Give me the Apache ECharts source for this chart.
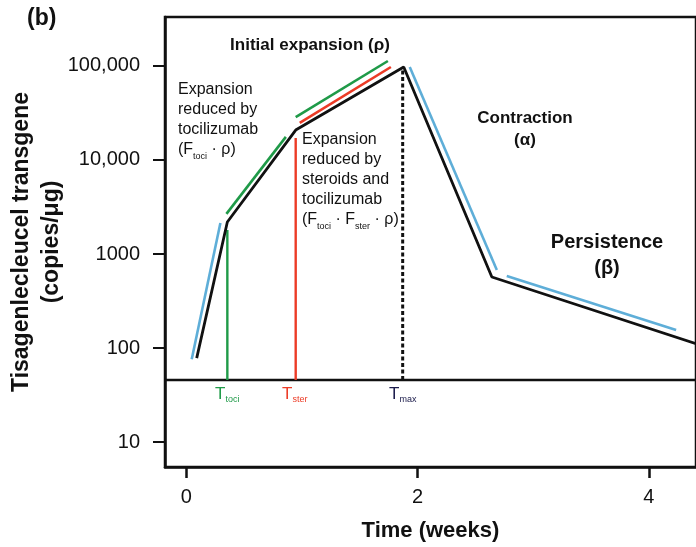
<!DOCTYPE html>
<html>
<head>
<meta charset="utf-8">
<script src="https://cdn.jsdelivr.net/npm/echarts@6/dist/echarts.min.js"></script>
<style>
html,body{margin:0;padding:0;background:#fff;}
#c{width:696px;height:547px;}
</style>
</head>
<body>
<div id="c"></div>
<script>
// ---- data (weeks, copies/ug) ----
var blackX = [0.09, 0.355, 0.946, 1.88, 2.642, 4.407];
var blackY = [78, 2190, 20800, 97500, 569, 111];
var blue1X = [0.047, 0.295];   var blue1Y = [76, 2140];
var green1X = [0.347, 0.861];  var green1Y = [2670, 17600];
var green2X = [0.946, 1.743];  var green2Y = [28600, 113000];
var red2X = [0.981, 1.769];    var red2Y = [24800, 97500];
var blue2X = [1.932, 2.685];   var blue2Y = [97500, 676];
var blue3X = [2.771, 4.235];   var blue3Y = [583, 155];
var tToci = 0.355, tociTop = 1800;
var tSter = 0.946, sterTop = 17100;
var tMax = 1.871, maxTop = 90600;
var baseLevel = 45.7;
var xRange = [-0.184, 4.407];
var yRange = [5.42, 331900];
var xTicks = [0, 2, 4];
var yTicks = [10, 100, 1000, 10000, 100000];
var yTickLabels = ['10', '100', '1000', '10,000', '100,000'];

function pts(xs, ys) { return xs.map(function (x, i) { return [x, ys[i]]; }); }
function seg(xs, ys, color, type, width) {
  return {
    type: 'line', data: pts(xs, ys), symbol: 'none', silent: true, animation: false,
    lineStyle: { color: color, width: width || 2.6, type: type || 'solid', cap: 'butt' }
  };
}
var BLUE = '#5eaed8', GREEN = '#1f9a48', RED = '#ec3b26', BLK = '#111111';
var FONT = 'Liberation Sans, Arial, sans-serif';

var chart = echarts.init(document.getElementById('c'), null, { renderer: 'canvas' });
var sub = { fontSize: 9, fontFamily: FONT, verticalAlign: 'bottom', padding: [0, 0, -1, 0] };
chart.setOption({
  animation: false,
  grid: { left: 165, top: 17, right: -5, bottom: 80, show: true, borderColor: BLK, borderWidth: 2.5 },
  xAxis: {
    type: 'value', min: xRange[0], max: xRange[1],
    axisLine: { show: true, onZero: false, lineStyle: { color: BLK, width: 2.5 } },
    axisTick: { show: true, length: 11, customValues: xTicks, lineStyle: { color: BLK, width: 2.5 } },
    axisLabel: { customValues: xTicks, margin: 20, fontSize: 20, color: BLK, fontFamily: FONT },
    splitLine: { show: false },
    name: 'Time (weeks)', nameLocation: 'middle', nameGap: 53,
    nameTextStyle: { fontSize: 22, fontWeight: 'bold', color: BLK, fontFamily: FONT }
  },
  yAxis: {
    type: 'log', logBase: 10, min: yRange[0], max: yRange[1],
    axisLine: { show: true, onZero: false, lineStyle: { color: BLK, width: 2.5 } },
    axisTick: { show: true, length: 12, customValues: yTicks, lineStyle: { color: BLK, width: 2 } },
    axisLabel: {
      customValues: yTicks, margin: 25, fontSize: 20, color: BLK, fontFamily: FONT,
      formatter: function (v) { var i = yTicks.indexOf(Math.round(v)); return i >= 0 ? yTickLabels[i] : ''; }
    },
    splitLine: { show: false }
  },
  series: [
    seg([xRange[0], xRange[1]], [baseLevel, baseLevel], BLK, 'solid', 2.5),
    seg([tToci, tToci], [baseLevel, tociTop], GREEN, 'solid', 2.4),
    seg([tSter, tSter], [baseLevel, sterTop], RED, 'solid', 2.4),
    seg([tMax, tMax], [baseLevel, maxTop], BLK, [4, 2.5], 3),
    seg(blue1X, blue1Y, BLUE),
    seg(green1X, green1Y, GREEN),
    seg(green2X, green2Y, GREEN),
    seg(red2X, red2Y, RED),
    seg(blue2X, blue2Y, BLUE),
    seg(blue3X, blue3Y, BLUE),
    seg(blackX, blackY, BLK, 'solid', 2.8)
  ],
  graphic: [
    { type: 'text', x: 27, y: 19, style: { text: '(b)', font: 'bold 23px ' + FONT, fill: BLK, textVerticalAlign: 'middle' } },
    { type: 'text', x: 37, y: 242, rotation: Math.PI / 2,
      style: { text: 'Tisagenlecleucel transgene\n(copies/\u03bcg)', font: 'bold 23px ' + FONT, fill: BLK,
        textAlign: 'center', textVerticalAlign: 'middle', lineHeight: 30 } },
    { type: 'text', x: 310, y: 45, style: { text: 'Initial expansion (\u03c1)', font: 'bold 17px ' + FONT, fill: BLK, textAlign: 'center', textVerticalAlign: 'middle' } },
    { type: 'text', x: 525, y: 129, style: { text: 'Contraction\n(\u03b1)', font: 'bold 17px ' + FONT, fill: BLK, textAlign: 'center', textVerticalAlign: 'middle', lineHeight: 22 } },
    { type: 'text', x: 607, y: 255, style: { text: 'Persistence\n(\u03b2)', font: 'bold 20px ' + FONT, fill: BLK, textAlign: 'center', textVerticalAlign: 'middle', lineHeight: 26 } },
    { type: 'text', x: 178, y: 80, style: {
        text: 'Expansion\nreduced by\ntocilizumab\n(F{s|toci} \u00b7 \u03c1)', fontSize: 16, fontFamily: FONT, fill: BLK, lineHeight: 20,
        rich: { s: sub } } },
    { type: 'text', x: 302, y: 130, style: {
        text: 'Expansion\nreduced by\nsteroids and\ntocilizumab\n(F{s|toci} \u00b7 F{s|ster} \u00b7 \u03c1)', fontSize: 16, fontFamily: FONT, fill: BLK, lineHeight: 20,
        rich: { s: sub } } },
    { type: 'text', x: 215, y: 386, style: { text: 'T{s|toci}', fontSize: 17, fontFamily: FONT, fill: GREEN, rich: { s: sub } } },
    { type: 'text', x: 282, y: 386, style: { text: 'T{s|ster}', fontSize: 17, fontFamily: FONT, fill: RED, rich: { s: sub } } },
    { type: 'text', x: 389, y: 386, style: { text: 'T{s|max}', fontSize: 17, fontFamily: FONT, fill: '#1a1a4a', rich: { s: sub } } }
  ]
});
</script>
</body>
</html>
